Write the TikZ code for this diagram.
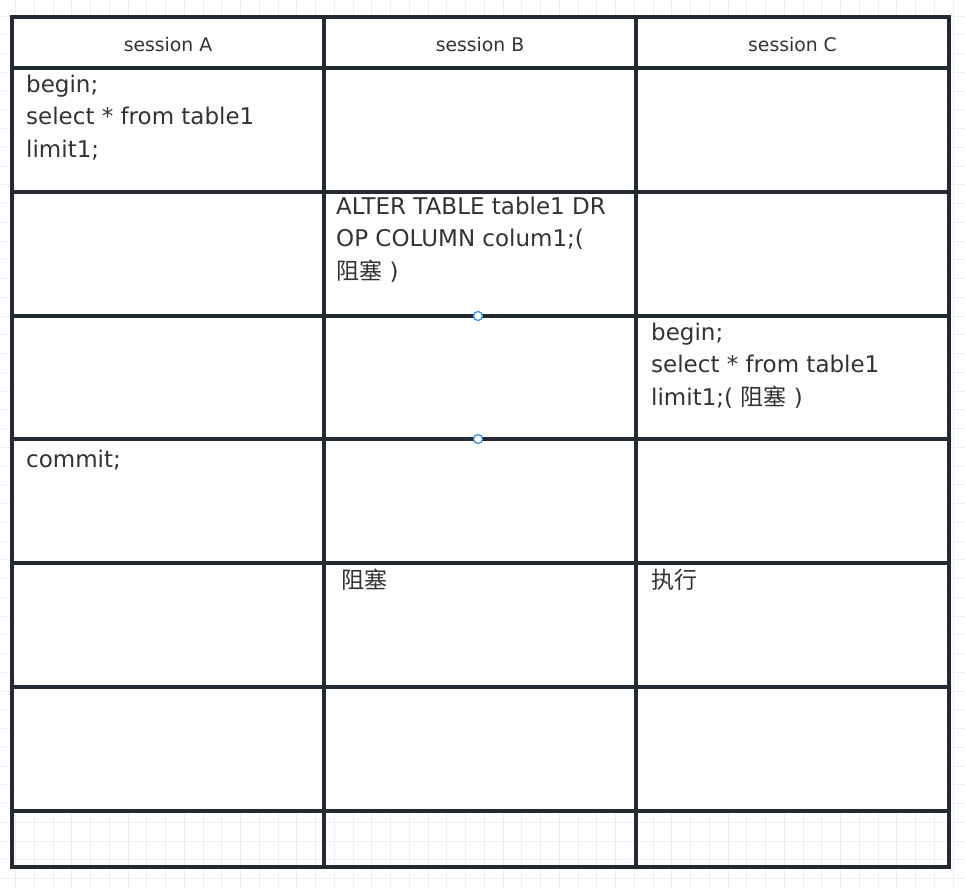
\documentclass[tikz,border=0pt]{standalone}
\usepackage{fontspec}
\setmainfont{DejaVu Sans}
\newfontfamily\cjk{Noto Sans CJK SC}
\definecolor{rulecol}{HTML}{232A31}
\definecolor{txtgray}{HTML}{333333}
\definecolor{gridgray}{HTML}{EEEEEE}
\definecolor{handleblue}{HTML}{2D8CF0}
\tikzset{
  rule/.style={draw=rulecol,line width=3.2pt,line cap=rect},
  gridline/.style={draw=gridgray,line width=1pt},
}
\begin{document}
\begin{tikzpicture}[x=1pt,y=-1pt,
  cell/.style={anchor=base west,inner sep=0pt,align=left,font=\fontsize{23}{32.3}\selectfont,text=txtgray},
  head/.style={inner sep=0pt,font=\fontsize{18.8}{22}\selectfont,text=txtgray},
  handle/.style={circle,draw=handleblue,fill=white,line width=1.2pt,minimum size=9pt,inner sep=0pt}]
\useasboundingbox (0,0) rectangle (965,889);
% background grid
\foreach \i in {0,...,51} \draw[gridline] ({15.5+18.75*\i},0) -- ++(0,889);
\foreach \i in {0,...,47} \draw[gridline] (0,{16+18.75*\i}) -- ++(965,0);
\fill[white] (12,17) rectangle (949,811);
% table
\foreach \x in {12,324,636,949} \draw[rule] (\x,17) -- (\x,867);
\foreach \y in {17,68,192,316,439,563,687,811,867} \draw[rule] (12,\y) -- (949,\y);
% headers
\node[head] (headA) at (168,44) {session A};
\node[head] (headB) at (480,44) {session B};
\node[head] (headC) at (792.5,44) {session C};
% cells (anchored on the last line)
\node[cell] (a1) at (26,157) {begin;\\select * from table1\\limit1;};
\node[cell] (b2) at (336,279) {ALTER TABLE table1 DR\\OP COLUMN colum1;(\\{\cjk 阻塞} )};
\node[cell] (c3) at (651,405) {begin;\\select * from table1\\limit1;( {\cjk 阻塞} )};
\node[cell] (a4) at (26,467) {commit;};
\node[cell] (b5) at (341,588) {{\cjk 阻塞}};
\node[cell] (c5) at (651,588) {{\cjk 执行}};
% selection handles
\node[handle] (h1) at (478,316) {};
\node[handle] (h2) at (478,439) {};
\end{tikzpicture}
\end{document}
